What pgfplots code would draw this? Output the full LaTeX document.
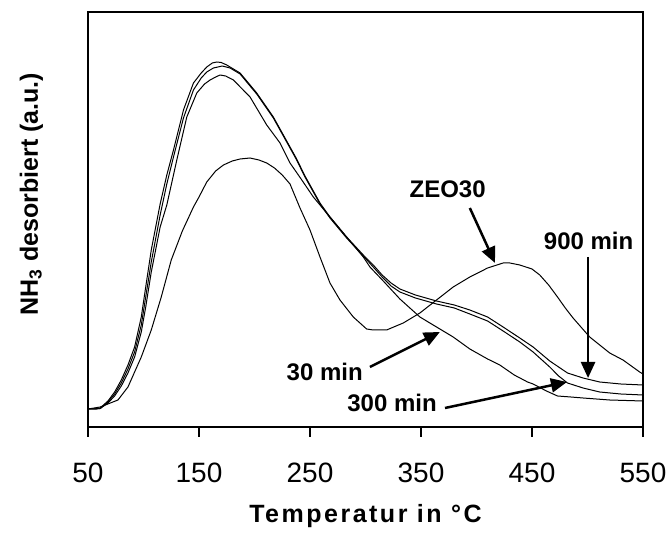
\documentclass[border=0pt]{standalone}
\usepackage{pgfplots}
\pgfplotsset{compat=1.18}
\usepackage{pgfplotstable}
\usepackage{fontspec}
\setmainfont{Liberation Sans}
\usetikzlibrary{arrows.meta}

\pgfplotstableread{
T y
50 18
56 18
61 19
68 26
74 35
80 47
86 62
92 80
98 110
102 140
107 177
115 223
121 252
127 277
136 317
145 344
152 354
157 360
162 364
166 365
170 364.5
175 362
187 354
202 334
217 310
232 280
238 268
245 252
253 236
259 224
268 210
283 190
298 172
307 162
315 152
323 144
331 138
345 132
364 126
380 122
394 117
410 110
424 100
439 89
451 80
466 66
482 54
496 49
511 45
530 43
550 42
}\curveA

\pgfplotstableread{
T y
50 18
56 18
61 18.5
68 25
74 33
80 44
86 58
92 75
98 102
102 130
107 165
115 212
121 243
127 270
136 309
145 337
152 349
157 355
163 359
171 361
178 359
187 353
202 333
217 309
232 279
238 267
245 251
253 235
259 223
268 209
283 189
298 171
307 160
315 150
323 141
331 135
345 129
364 123
380 119
394 113
410 106
424 96
439 85
451 75
466 60
474 51
482 44
496 39
511 35
530 33
550 32
}\curveB

\pgfplotstableread{
T y
50 18
56 18
61 18.5
68 24
74 31
80 41
86 54
92 70
98 95
102 120
107 155
115 200
121 222
130 267
139 310
148 334
155 343
160 347
165 350
169 352
174 351
181 347
196 330
211 302
223 284
232 264
242 248
253 230
268 210
283 190
298 170
304 160
316 146
331 128
349 110
364 100
379 90
394 78
410 68
421 62
434 52
446 45
451 43
463 36
473 31
485 30
496 29
520 27
550 26
}\curveC

\pgfplotstableread{
T y
50 18
61 20
77 27
86 40
98 70
107 97
116 130
125 167
135 196
145 220
150 230
157 245
165 256
172 262
180 266
187 268
196 269
204 267
211 264
218 259
225 252
232 243
241 219
250 197
259 170
268 144
277 127
289 110
301 98
307 97
319 97
334 104
349 114
364 127
379 140
394 150
410 159
424 164
430 164
439 162
450 158
457 152
465 142
473 130
480 119
487 109
502 90
520 74
532 67
547 55
550 53
}\curveD

\begin{document}
\begin{tikzpicture}
\useasboundingbox (-88pt,-113pt) rectangle (581pt,427pt);
\begin{axis}[
  at={(0pt,0pt)}, anchor=south west,
  scale only axis, width=555pt, height=415pt,
  xmin=50, xmax=550, ymin=0, ymax=415,
  xtick={50,150,250,350,450,550}, ytick=\empty,
  xtick pos=bottom, tick align=outside, major tick length=10pt,
  every tick/.style={black, line width=1.5pt},
  axis line style={line width=1.5pt},
  /pgf/number format/assume math mode=true,
  xticklabel style={font=\fontsize{28}{32}\selectfont, anchor=base, yshift=-46pt},
  xlabel={Temperatur in °C},
  ylabel={NH\textsubscript{3} desorbiert (a.u.)},
  every axis x label/.style={at={(axis description cs:0.5,-0.2313)}, anchor=base, font=\fontsize{25}{30}\selectfont\bfseries\addfontfeature{LetterSpace=10}},
  every axis y label/.style={at={(axis description cs:-0.0901,0.5614)}, rotate=90, anchor=base, font=\fontsize{25}{30}\selectfont\bfseries},
  clip=false,
]
\addplot[black, line width=1pt, no marks, line join=round] table[x=T,y=y] {\curveA};
\addplot[black, line width=1pt, no marks, line join=round] table[x=T,y=y] {\curveB};
\addplot[black, line width=1pt, no marks, line join=round] table[x=T,y=y] {\curveC};
\addplot[black, line width=1pt, no marks, line join=round] table[x=T,y=y] {\curveD};

\tikzset{lab/.style={font=\fontsize{24}{28}\selectfont\bfseries, inner sep=0pt},
         arr/.style={line width=2.5pt, -{Triangle[length=16pt,width=14pt]}}}
\node[lab, anchor=base] at (axis cs:374,229) {ZEO30};
\draw[arr] (axis cs:394,219) -- (axis cs:416.7,164);
\node[lab, anchor=base] at (axis cs:501,177) {900 min};
\draw[arr] (axis cs:500.5,170) -- (axis cs:500.5,49);
\node[lab, anchor=base east] at (axis cs:297.7,46) {30 min};
\draw[arr] (axis cs:304,60) -- (axis cs:367,95);
\node[lab, anchor=base east] at (axis cs:364.4,15) {300 min};
\draw[arr] (axis cs:371.6,19) -- (axis cs:481.5,45);
\end{axis}
\end{tikzpicture}
\end{document}
